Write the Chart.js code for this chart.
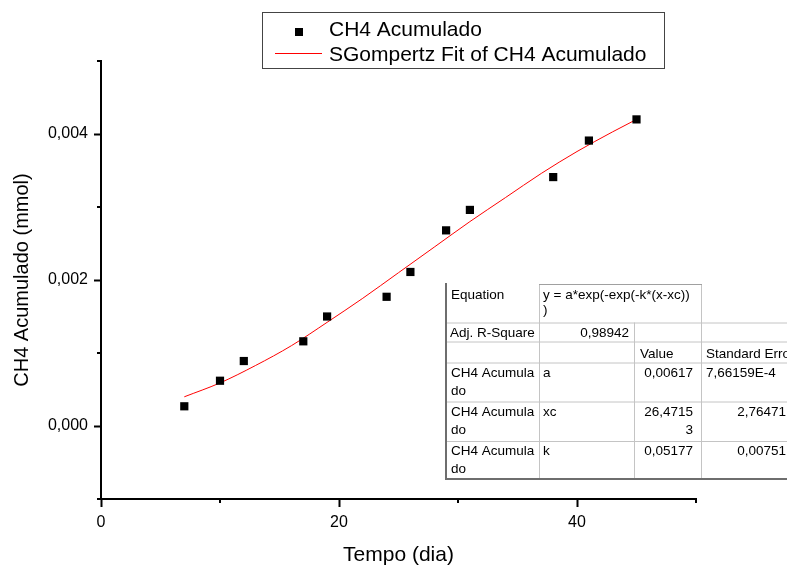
<!DOCTYPE html>
<html>
<head>
<meta charset="utf-8">
<title>CH4 Acumulado</title>
<script src="https://cdn.jsdelivr.net/npm/chart.js@4.4.0/dist/chart.umd.min.js"></script>
<style>
  body { margin: 0; background: #fff; }
  #wrap { position: relative; width: 787px; height: 566px; }
</style>
</head>
<body>
<div id="wrap"><canvas id="chart" width="787" height="566"></canvas></div>
<script>
// measured points (dia, mmol)
const tempo = [7, 10, 12, 17, 19, 24, 26, 29, 31, 38, 41, 45];
const ch4Acumulado = [0.00027, 0.00062, 0.00089, 0.00116, 0.0015, 0.00177, 0.00211, 0.00268, 0.00296, 0.00341, 0.00391, 0.0042];

// fitted curve
const fitTempo = [7, 10, 13, 16, 19, 22, 25, 28, 31, 34, 37, 40, 43, 45];
const fitCh4 = [0.0004, 0.00059, 0.00083, 0.0011, 0.00142, 0.00175, 0.0021, 0.00245, 0.0028, 0.00313, 0.00346, 0.00376, 0.00403, 0.0042];

// axis ticks
const xMajorTicks = [0, 20, 40];
const xTickLabels = ['0', '20', '40'];
const yMajorTicks = [0, 0.002, 0.004];
const yTickLabels = ['0,000', '0,002', '0,004'];

// fit results table
const tableRows = [
    ['Equation', 'y = a*exp(-exp(-k*(x-xc))', ''],
    ['Adj. R-Square', '0,98942', ''],
    ['', 'Value', 'Standard Error'],
    ['CH4 Acumulado', 'a', '0,00617', '7,66159E-4'],
    ['CH4 Acumulado', 'xc', '26,47153', '2,76471'],
    ['CH4 Acumulado', 'k', '0,05177', '0,00751']
];

const FONT = '"Liberation Sans", Arial, sans-serif';

function isMajor(list, v) {
    return list.some(m => Math.abs(m - v) < 1e-9);
}

function majorLabel(list, labels, v) {
    const i = list.findIndex(m => Math.abs(m - v) < 1e-9);
    return i >= 0 ? labels[i] : '';
}

// short minor ticks (the library only has one tick length)
const minorTicks = {
    id: 'minorTicks',
    afterDraw(chart) {
        const ctx = chart.ctx;
        const x = chart.scales.x, y = chart.scales.y;
        const area = chart.chartArea;
        ctx.save();
        ctx.strokeStyle = '#000';
        ctx.lineWidth = 2;
        x.ticks.forEach(t => {
            if (isMajor(xMajorTicks, t.value)) return;
            const px = Math.round(x.getPixelForValue(t.value));
            ctx.beginPath();
            ctx.moveTo(px, area.bottom);
            ctx.lineTo(px, area.bottom + 4);
            ctx.stroke();
        });
        y.ticks.forEach(t => {
            if (isMajor(yMajorTicks, t.value)) return;
            const py = Math.round(y.getPixelForValue(t.value));
            ctx.beginPath();
            ctx.moveTo(area.left, py);
            ctx.lineTo(area.left - 4, py);
            ctx.stroke();
        });
        ctx.restore();
    }
};

// boxed legend at the top
const boxLegend = {
    id: 'boxLegend',
    afterDraw(chart) {
        const ctx = chart.ctx;
        const ds = chart.data.datasets;
        ctx.save();
        ctx.strokeStyle = '#444';
        ctx.lineWidth = 1;
        ctx.strokeRect(262.5, 12.5, 402, 56);
        ctx.font = '21px ' + FONT;
        ctx.fillStyle = '#000';
        ctx.textBaseline = 'alphabetic';
        ctx.fillText(ds[0].label, 329, 36);
        ctx.fillText(ds[1].label, 329, 61);
        ctx.fillRect(295, 28, 8, 8);
        ctx.strokeStyle = ds[1].borderColor;
        ctx.lineWidth = 1;
        ctx.beginPath();
        ctx.moveTo(275, 53.5);
        ctx.lineTo(322, 53.5);
        ctx.stroke();
        ctx.restore();
    }
};

// Origin style parameter table
const fitTable = {
    id: 'fitTable',
    afterDraw(chart) {
        const ctx = chart.ctx;
        const ry = [284, 322.5, 341.5, 362.5, 401.5, 441, 479];
        const R = 787;
        ctx.save();
        ctx.fillStyle = '#fff';
        ctx.fillRect(446, 284, R - 446, 196);

        const line = (x1, y1, x2, y2) => {
            ctx.beginPath();
            ctx.moveTo(x1, y1);
            ctx.lineTo(x2, y2);
            ctx.stroke();
        };
        ctx.lineWidth = 1;
        ctx.strokeStyle = '#c4c4c4';
        for (let i = 1; i < 6; i++) line(446, ry[i] + 0.5, R, ry[i] + 0.5);
        line(539.5, 284, 539.5, 479);
        line(634.5, ry[1], 634.5, 479);
        line(701.5, 284, 701.5, 479);
        ctx.strokeStyle = '#a0a0a0';
        line(539, 284.5, 702, 284.5);
        ctx.strokeStyle = '#6e6e6e';
        ctx.lineWidth = 2;
        line(446, 283, 446, 480);
        line(445, 479, R, 479);

        ctx.font = '13.5px ' + FONT;
        ctx.fillStyle = '#000';
        const txt = (s, x, y, align) => {
            ctx.textAlign = align || 'left';
            ctx.fillText(s, x, y);
        };
        txt(tableRows[0][0], 451, 299);
        txt(tableRows[0][1], 543, 299);
        txt(')', 543, 314);
        txt(tableRows[1][0], 450, 337);
        txt(tableRows[1][1], 629, 337, 'right');
        txt(tableRows[2][1], 640, 358);
        txt(tableRows[2][2], 706, 358);

        const base = [377, 416, 455];
        [3, 4, 5].forEach((r, i) => {
            const row = tableRows[r];
            const b = base[i];
            txt(row[0].slice(0, 11), 451, b);
            txt(row[0].slice(11), 451, b + 18);
            txt(row[1], 543, b);
            if (row[2].length > 7) {
                txt(row[2].slice(0, 7), 693, b, 'right');
                txt(row[2].slice(7), 693, b + 18, 'right');
            } else {
                txt(row[2], 693, b, 'right');
            }
            if (row[3].indexOf('E') >= 0) txt(row[3], 706, b);
            else txt(row[3], 786, b, 'right');
        });
        ctx.restore();
    }
};

new Chart(document.getElementById('chart'), {
    type: 'scatter',
    data: {
        datasets: [
            {
                label: 'CH4 Acumulado',
                data: tempo.map((t, i) => ({ x: t, y: ch4Acumulado[i] })),
                pointStyle: 'rect',
                pointRadius: 5.8,
                pointHoverRadius: 5.8,
                backgroundColor: '#000',
                borderColor: '#000',
                borderWidth: 0,
                order: 1
            },
            {
                label: 'SGompertz Fit of CH4 Acumulado',
                type: 'line',
                data: fitTempo.map((t, i) => ({ x: t, y: fitCh4[i] })),
                borderColor: '#ff0000',
                borderWidth: 1,
                pointRadius: 0,
                fill: false,
                cubicInterpolationMode: 'monotone',
                order: 2
            }
        ]
    },
    options: {
        responsive: false,
        animation: false,
        events: [],
        layout: { padding: { top: 61, right: 91, left: 0, bottom: 0 } },
        plugins: {
            legend: { display: false },
            tooltip: { enabled: false }
        },
        scales: {
            x: {
                type: 'linear',
                min: 0,
                max: 50,
                afterFit: s => { s.height = 67; },
                ticks: {
                    stepSize: 10,
                    autoSkip: false,
                    maxRotation: 0,
                    padding: 6,
                    color: '#000',
                    font: { family: FONT, size: 16 },
                    callback: v => majorLabel(xMajorTicks, xTickLabels, v)
                },
                grid: {
                    drawOnChartArea: false,
                    tickLength: 8,
                    tickWidth: 2,
                    tickColor: c => isMajor(xMajorTicks, c.tick.value) ? '#000' : 'rgba(0,0,0,0)'
                },
                border: { display: true, color: '#000', width: 2 },
                title: {
                    display: true,
                    text: 'Tempo (dia)',
                    color: '#000',
                    font: { family: FONT, size: 21, lineHeight: 1 },
                    padding: { top: 0, bottom: 0 }
                }
            },
            y: {
                type: 'linear',
                min: -0.001,
                max: 0.005,
                afterFit: s => { s.width = 101; },
                ticks: {
                    stepSize: 0.001,
                    autoSkip: false,
                    padding: 6,
                    color: '#000',
                    font: { family: FONT, size: 16 },
                    callback: v => majorLabel(yMajorTicks, yTickLabels, v)
                },
                grid: {
                    drawOnChartArea: false,
                    tickLength: 7,
                    tickWidth: 2,
                    tickColor: c => isMajor(yMajorTicks, c.tick.value) ? '#000' : 'rgba(0,0,0,0)'
                },
                border: { display: true, color: '#000', width: 2 },
                title: {
                    display: true,
                    text: 'CH4 Acumulado (mmol)',
                    color: '#000',
                    font: { family: FONT, size: 20, lineHeight: 1 },
                    padding: { top: 12, bottom: 0 }
                }
            }
        }
    },
    plugins: [minorTicks, boxLegend, fitTable]
});
</script>
</body>
</html>
